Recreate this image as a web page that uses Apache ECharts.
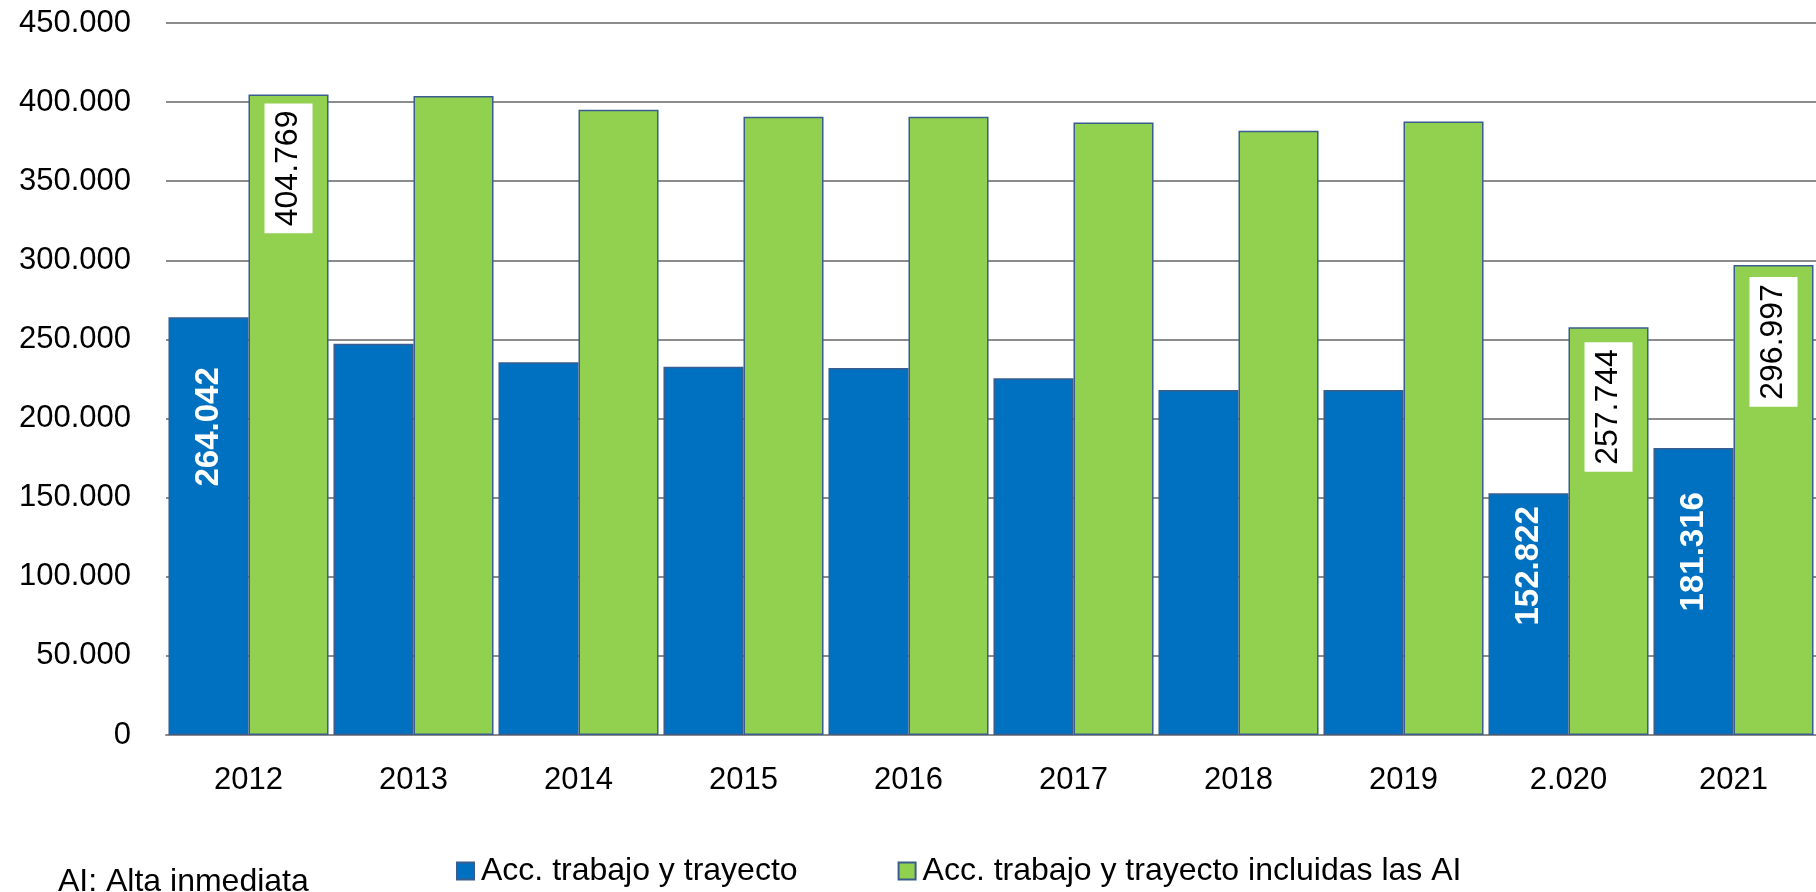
<!DOCTYPE html>
<html>
<head>
<meta charset="utf-8">
<script src="https://cdn.jsdelivr.net/npm/echarts@6/dist/echarts.min.js"></script>
<style>
  html, body { margin: 0; padding: 0; background: #fff; }
  #chart { width: 1816px; height: 892px; }
</style>
</head>
<body>
<div id="chart"></div>
<script>
  // datos
  const years = ['2012', '2013', '2014', '2015', '2016', '2017', '2018', '2019', '2.020', '2021'];
  const accTrabajo = [264042, 247300, 235600, 232700, 231900, 225400, 218000, 218000, 152822, 181316];
  const accConAI = [404769, 403900, 395100, 390700, 390700, 387100, 381900, 387800, 257744, 296997];
  const labeledYears = ['2012', '2.020', '2021'];

  // separación de las etiquetas desde el borde superior de la barra (px)
  const blueLabelGap = { '2012': 50, '2.020': 13, '2021': 44 };
  const greenLabelGap = { '2012': 9, '2.020': 15, '2021': 12 };

  const FONT = '"Liberation Sans", Arial, sans-serif';
  const BORDER = '#3A5D8F';

  function fmt(v) {
    return String(Math.round(v)).replace(/\B(?=(\d{3})+(?!\d))/g, '.');
  }

  const chart = echarts.init(document.getElementById('chart'));

  const blueData = accTrabajo.map((v, i) => {
    const y = years[i];
    if (labeledYears.indexOf(y) < 0) return v;
    return {
      value: v,
      label: {
        show: true,
        position: 'insideTop',
        distance: blueLabelGap[y],
        rotate: 90,
        align: 'right',
        verticalAlign: 'middle',
        color: '#fff',
        fontWeight: 'bold',
        fontSize: 33,
        fontFamily: FONT,
        formatter: p => fmt(p.value)
      }
    };
  });

  const greenData = accConAI.map((v, i) => {
    const y = years[i];
    if (labeledYears.indexOf(y) < 0) return v;
    return {
      value: v,
      label: {
        show: true,
        position: 'insideTop',
        distance: greenLabelGap[y],
        rotate: 90,
        align: 'right',
        verticalAlign: 'middle',
        color: '#000',
        fontSize: 32,
        fontFamily: FONT,
        backgroundColor: '#fff',
        padding: [8, 7, 8, 7],
        formatter: p => fmt(p.value)
      }
    };
  });

  chart.setOption({
    animation: false,
    textStyle: { fontFamily: FONT },
    grid: { left: 166, right: 0, top: 23, bottom: 157 },
    legend: {
      left: 451,
      top: 850,
      icon: 'rect',
      itemWidth: 17,
      itemHeight: 17,
      itemGap: 100,
      textStyle: { fontSize: 32, color: '#000', fontFamily: FONT, padding: [0, 0, 0, 2] },
      data: ['Acc. trabajo y trayecto', 'Acc. trabajo y trayecto incluidas las AI']
    },
    graphic: [{
      type: 'text',
      left: 58,
      top: 866,
      style: { text: 'AI: Alta inmediata', fontSize: 32, fontFamily: FONT, fill: '#000' }
    }],
    xAxis: {
      type: 'category',
      data: years,
      axisLine: { lineStyle: { color: '#8c8c8c', width: 2 } },
      axisTick: { show: false },
      axisLabel: { fontSize: 31, color: '#000', margin: 30, fontFamily: FONT }
    },
    yAxis: {
      type: 'value',
      min: 0,
      max: 450000,
      interval: 50000,
      axisLine: { show: false },
      axisTick: { show: false },
      splitLine: { lineStyle: { color: '#8c8c8c', width: 2 } },
      axisLabel: { fontSize: 31, color: '#000', margin: 35, fontFamily: FONT, formatter: v => fmt(v) }
    },
    series: [
      {
        name: 'Acc. trabajo y trayecto',
        type: 'bar',
        data: blueData,
        barGap: '0%',
        barCategoryGap: '3%',
        itemStyle: { color: '#0070C0', borderColor: BORDER, borderWidth: 1.5 }
      },
      {
        name: 'Acc. trabajo y trayecto incluidas las AI',
        type: 'bar',
        data: greenData,
        barGap: '0%',
        barCategoryGap: '3%',
        itemStyle: { color: '#92D050', borderColor: BORDER, borderWidth: 1.5 }
      }
    ]
  });
</script>
</body>
</html>
